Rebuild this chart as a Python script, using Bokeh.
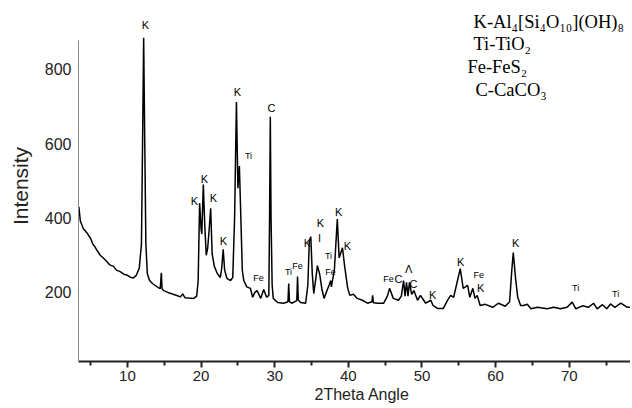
from bokeh.plotting import figure
from bokeh.models import Range1d, FixedTicker, Title
from bokeh.core.properties import value
from bokeh.embed import file_html
from bokeh.resources import INLINE

two_theta = [
    3.4, 3.6, 4.0, 4.5, 5.0, 5.3, 5.6, 5.9, 6.3, 6.75, 7.2, 7.6, 8.1, 8.5, 9.0, 9.5, 10.0, 10.4, 10.8, 11.2,
    11.6, 11.9, 12.05, 12.2, 12.35, 12.5, 12.7, 13.0, 13.4, 13.8, 14.2, 14.45, 14.6, 14.7, 14.9, 15.5,
    16.2, 16.8, 17.2, 17.5, 17.8, 18.3, 19.0, 19.4, 19.6, 19.8, 20.0, 20.1, 20.3, 20.5, 20.7, 20.9,
    21.1, 21.3, 21.5, 21.8, 22.2, 22.6, 22.8, 23.0, 23.2, 23.5, 24.0, 24.3, 24.55, 24.8, 25.0, 25.2,
    25.4, 25.6, 25.8, 26.2, 26.7, 27.0, 27.3, 27.6, 28.1, 28.5, 28.9, 29.2, 29.3, 29.4, 29.5, 29.65,
    29.8, 30.4, 31.2, 31.8, 31.9, 32.0, 32.3, 33.0, 33.1, 33.2, 33.5, 34.2, 34.5, 34.7, 34.9, 35.1,
    35.3, 35.6, 35.8, 36.1, 36.4, 36.7, 37.1, 37.4, 37.6, 37.7, 37.8, 38.1, 38.5, 38.75, 39.2, 39.5,
    39.9, 40.2, 40.7, 41.2, 41.9, 42.6, 43.2, 43.3, 43.4, 44.0, 44.8, 45.3, 45.6, 46.1, 46.8, 47.2,
    47.5, 47.7, 47.9, 48.1, 48.3, 48.6, 48.9, 49.4, 49.8, 50.5, 51.2, 51.5, 52.1, 52.9, 53.5, 53.9,
    54.3, 54.8, 55.2, 55.6, 56.2, 56.5, 56.9, 57.2, 57.5, 57.9, 58.6, 59.6, 60.4, 61.3, 61.9, 62.2,
    62.4, 62.7, 63.0, 63.4, 63.8, 64.3, 64.8, 65.7, 67.0, 67.9, 68.8, 69.7, 70.4, 70.9, 71.8, 72.6,
    73.3, 73.8, 74.5, 75.1, 75.6, 76.2, 77.0, 77.9, 78.6,
]
intensity = [
    430, 392, 372, 360, 345, 330, 322, 312, 300, 292, 283, 274, 270, 260, 256, 249, 246, 241, 239, 246,
    265, 330, 600, 885, 600, 330, 250, 232, 224, 218, 213, 210, 253, 210, 205, 200,
    195, 191, 188, 196, 186, 185, 184, 190, 230, 440, 370, 357, 490, 380, 300, 320,
    370, 426, 304, 270, 251, 240, 265, 316, 260, 238, 232, 240, 400, 712, 480, 540,
    400, 259, 232, 215, 211, 187, 200, 205, 184, 208, 187, 192, 400, 672, 400, 220,
    184, 173, 171, 175, 224, 175, 171, 178, 243, 180, 173, 171, 220, 339, 350, 250,
    197, 240, 272, 250, 210, 184, 205, 220, 232, 215, 227, 260, 397, 293, 320, 270,
    213, 192, 195, 184, 179, 171, 175, 192, 172, 171, 171, 190, 211, 184, 179, 190,
    232, 190, 227, 190, 227, 195, 205, 179, 192, 171, 179, 165, 157, 157, 180, 192,
    187, 230, 264, 211, 219, 187, 211, 184, 192, 165, 168, 160, 171, 163, 175, 260,
    307, 240, 187, 165, 165, 168, 156, 160, 156, 160, 156, 160, 174, 156, 164, 160,
    171, 156, 167, 156, 169, 160, 171, 160, 160,
]

peak_labels = ["K", "K", "C", "Ti", "K", "K", "K", "K", "Fe", "Ti", "Fe", "K", "K", "I", "K", "K",
               "Ti", "Fe", "Fe", "C", "\u039b", "C", "K", "K", "Fe", "K", "K", "Ti", "Ti"]
peak_x = [12.45, 24.95, 29.57, 26.44, 20.46, 19.10, 21.68, 23.04, 27.8, 31.87, 33.09, 34.45, 36.22, 36.08,
          38.67, 39.89, 37.3, 37.58, 45.46, 46.82, 48.18, 48.86, 51.44, 55.24, 57.7, 57.96, 62.71, 70.86, 76.3]
peak_y = [918, 738, 697, 566, 506, 447, 453, 337, 240, 256, 272, 334, 386, 345,
          415, 324, 297, 256, 235, 235, 262, 224, 192, 281, 246, 213, 332, 211, 197]

legend_lines = ["K-Al\u2084[Si\u2084O\u2081\u2080](OH)\u2088", "Ti-TiO\u2082", "Fe-FeS\u2082", "C-CaCO\u2083"]
legend_x = [57.0, 56.99, 56.17, 57.27]
legend_y = [926, 867, 805, 743]

x_major_ticks = [10, 20, 30, 40, 50, 60, 70]
x_minor_ticks = [5, 15, 25, 35, 45, 55, 65, 75]
y_ticks = [200, 400, 600, 800]

# ---- figure ----
p = figure(width=630, height=406, output_backend="svg", toolbar_location=None,
           x_range=Range1d(3.35, 78.32), y_range=Range1d(14.3, 958),
           min_border_left=78, min_border_right=0, min_border_top=10, min_border_bottom=45)
p.outline_line_color = None
p.grid.visible = False
p.background_fill_color = "white"
p.border_fill_color = "white"

p.line(two_theta, intensity, line_color="black", line_width=1.5)

big = [i for i, t in enumerate(peak_labels) if t in ("K", "C", "I", "\u039b")]
small = [i for i, t in enumerate(peak_labels) if t not in ("K", "C", "I", "\u039b")]
p.text(x=[peak_x[i] for i in big], y=[peak_y[i] for i in big], text=[peak_labels[i] for i in big],
       text_align="center", text_baseline="middle", text_font=value("Liberation Sans"),
       text_font_size="11px", text_color="black")
p.text(x=[peak_x[i] for i in small], y=[peak_y[i] for i in small], text=[peak_labels[i] for i in small],
       text_align="center", text_baseline="middle", text_font=value("Liberation Sans"),
       text_font_size="9px", text_color="black")

p.text(x=legend_x, y=legend_y, text=legend_lines, text_align="left", text_baseline="middle",
       text_font=value("Liberation Serif"), text_font_size="18.5px", text_color="black")

# y axis
ya = p.yaxis[0]
ya.ticker = FixedTicker(ticks=y_ticks)
ya.bounds = (14.3, 878)
ya.axis_line_color = "#888888"
ya.axis_line_width = 1
ya.major_tick_out = 0
ya.major_tick_in = 0
ya.minor_tick_out = 0
ya.minor_tick_in = 0
ya.major_label_standoff = 7
ya.major_label_text_font = "Liberation Sans"
ya.major_label_text_font_size = "16px"
ya.major_label_text_color = "#222222"
ya.axis_label = "Intensity"
ya.axis_label_text_font = "Liberation Sans"
ya.axis_label_text_font_style = "normal"
ya.axis_label_text_font_size = "21px"
ya.axis_label_text_color = "#222222"
ya.axis_label_standoff = 10

# x axis
xa = p.xaxis[0]
xa.ticker = FixedTicker(ticks=x_major_ticks, minor_ticks=x_minor_ticks)
xa.axis_line_color = "#222222"
xa.axis_line_width = 2
xa.major_tick_out = 6
xa.major_tick_in = 0
xa.minor_tick_out = 4
xa.minor_tick_in = 0
xa.major_tick_line_width = 2
xa.minor_tick_line_width = 2
xa.major_tick_line_color = "#222222"
xa.minor_tick_line_color = "#222222"
xa.major_label_standoff = 3
xa.major_label_text_font = "Liberation Sans"
xa.major_label_text_font_size = "15px"
xa.major_label_text_color = "#222222"

p.add_layout(Title(text="2Theta Angle", align="left", offset=236, standoff=0,
                   text_font="Liberation Sans", text_font_size="16px",
                   text_font_style="normal", text_color="#222222"), "below")

open("out.html", "w").write(file_html(p, INLINE))
